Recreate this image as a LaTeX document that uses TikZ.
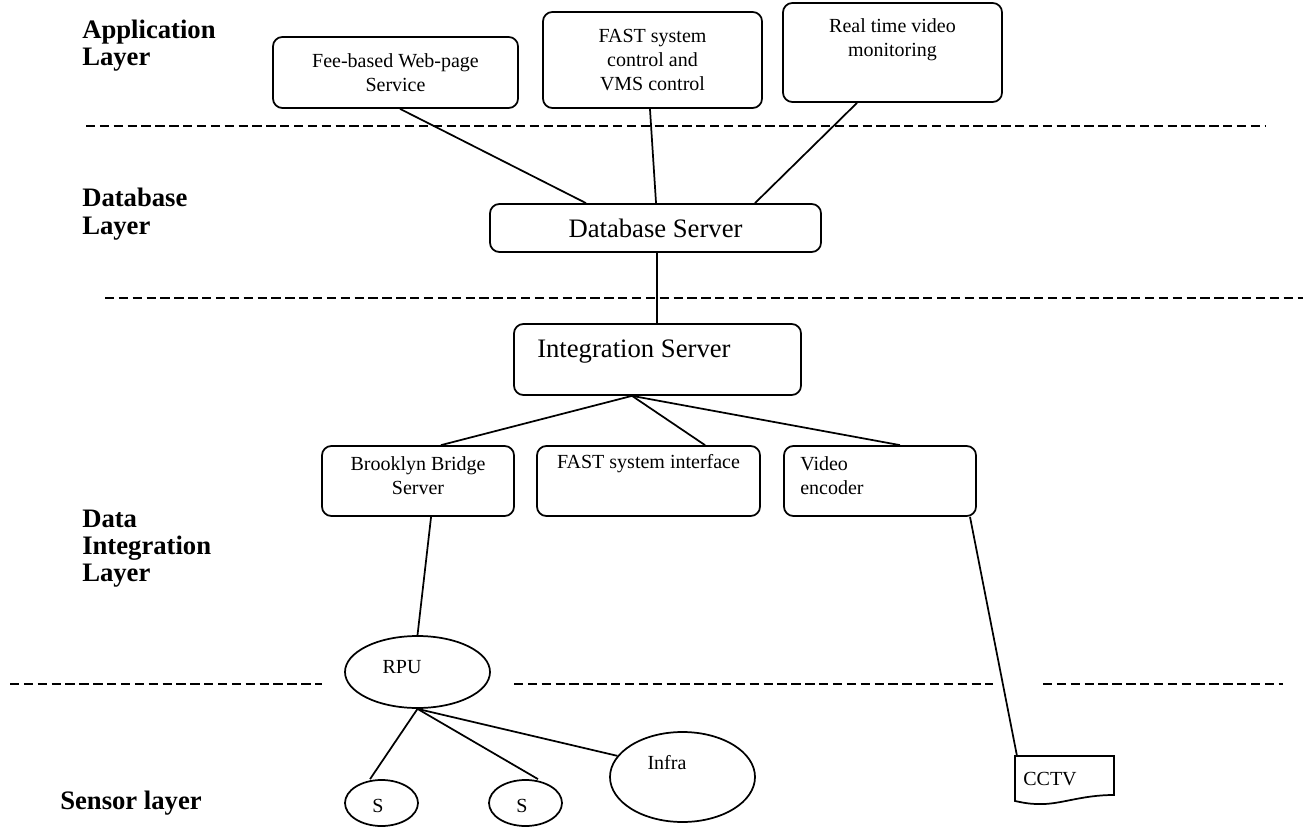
\documentclass[tikz,border=0pt]{standalone}
\usepackage{fontspec}
\setmainfont{Liberation Serif}
\usetikzlibrary{shapes.geometric}
\def\px{0.75pt}
\begin{document}
\begin{tikzpicture}[x=0.75pt,y=-0.75pt,
  box/.style={draw,line width=1.3pt,rounded corners=7pt,inner sep=0pt,align=center,font=\fontsize{15}{18}\selectfont},
  oval/.style={draw,line width=1.3pt,ellipse,inner sep=0pt},
  txt/.style={font=\fontsize{15}{18}\selectfont,inner sep=0pt},
  big/.style={font=\fontsize{20}{24}\selectfont,inner sep=0pt},
  layer/.style={font=\fontsize{20}{20.5}\selectfont\bfseries,align=left,anchor=west,inner sep=0pt},
  conn/.style={line width=1.3pt},
  sep/.style={line width=1.5pt,dash pattern=on 7pt off 3.4pt}]
\path[use as bounding box] (0,0) rectangle (1303,827);

% layer labels
\node[layer] (lapp) at (82,45.5) {Application\\Layer};
\node[layer] (ldb) at (82,214) {Database\\Layer};
\node[layer] (ldi) at (82,548.5) {Data\\Integration\\Layer};
\node[layer] (lsen) at (60,803) {Sensor layer};

% separators
\draw[sep] (86,126) -- (1265,126);
\draw[sep] (105,298) -- (1303,298);
\draw[sep] (10,684) -- (322,684);
\draw[sep] (514,684) -- (993,684);
\draw[sep] (1043,684) -- (1283,684);

% application layer
\node[box,minimum width=245*\px,minimum height=71*\px] (fee) at (395.5,72.5) {Fee-based Web-page\\Service};
\node[box,minimum width=219*\px,minimum height=96*\px] (fastc) at (652.5,60) {FAST system\\control and\\VMS control};
\node[box,minimum width=219*\px,minimum height=99*\px] (rtv) at (892.5,52.5) {};
\node[txt,align=center] (rtvt) at (892.5,40) {Real time video\\monitoring};

% database layer
\node[box,minimum width=331*\px,minimum height=48*\px,font=\fontsize{20}{24}\selectfont] (db) at (655.5,228) {Database Server};

% integration
\node[box,minimum width=287*\px,minimum height=71*\px] (integ) at (657.5,359.5) {};
\node[big,anchor=west] (integt) at (537,352) {Integration Server};

\node[box,minimum width=192*\px,minimum height=70*\px] (bbs) at (418,481) {};
\node[txt,align=center] (bbst) at (418,476) {Brooklyn Bridge\\Server};
\node[box,minimum width=223*\px,minimum height=70*\px] (fasti) at (648.5,481) {};
\node[txt] (fastit) at (648.5,464) {FAST system interface};
\node[box,minimum width=192*\px,minimum height=70*\px] (venc) at (880,481) {};
\node[txt,align=left,anchor=west] (venct) at (800,476) {Video\\encoder};

% sensor layer
\node[oval,minimum width=145*\px,minimum height=72*\px] (rpu) at (417.5,672) {};
\node[txt] (rput) at (402,667) {RPU};
\node[oval,minimum width=73*\px,minimum height=46*\px] (s1) at (381.5,803) {};
\node[txt] (s1t) at (378,806) {S};
\node[oval,minimum width=73*\px,minimum height=46*\px] (s2) at (525.5,803) {};
\node[txt] (s2t) at (522,806) {S};
\node[oval,minimum width=145*\px,minimum height=90*\px] (infra) at (682.5,777) {};
\node[txt] (infrat) at (667,763) {Infra};

% CCTV document shape
\node[txt] (cctv) at (1050,779) {CCTV};
\draw[line width=1.3pt] (1015,756) coordinate (cctvtl) -- (1114,756) -- (1114,795)
  .. controls (1080,795) and (1060,805) .. (1038,804)
  .. controls (1028,804) and (1020,802) .. (1015,801) -- cycle;

% connectors
\draw[conn] ([xshift=3.4pt]fee.south) -- ([xshift=-52.1pt]db.north);
\draw[conn] ([xshift=-1.9pt]fastc.south) -- ([xshift=0.4pt]db.north);
\draw[conn] ([xshift=-26.6pt]rtv.south) -- ([xshift=74.6pt]db.north);
\draw[conn] ([xshift=1.1pt]db.south) -- ([xshift=-0.4pt]integ.north);
\draw[conn] ([xshift=-19.1pt]integ.south) -- ([xshift=17.2pt]bbs.north);
\draw[conn] ([xshift=-19.1pt]integ.south) -- ([xshift=42.4pt]fasti.north);
\draw[conn] ([xshift=-19.1pt]integ.south) -- ([xshift=15pt]venc.north);
\draw[conn] ([xshift=9.8pt]bbs.south) -- (rpu.north);
\draw[conn] (rpu.south) -- ([xshift=-8.6pt]s1.north);
\draw[conn] (rpu.south) -- ([xshift=9.4pt]s2.north);
\draw[conn] (rpu.south) -- (infra.162);
\draw[conn] ([xshift=67.5pt]venc.south) -- ([xshift=1.5pt]cctvtl);
\end{tikzpicture}
\end{document}
